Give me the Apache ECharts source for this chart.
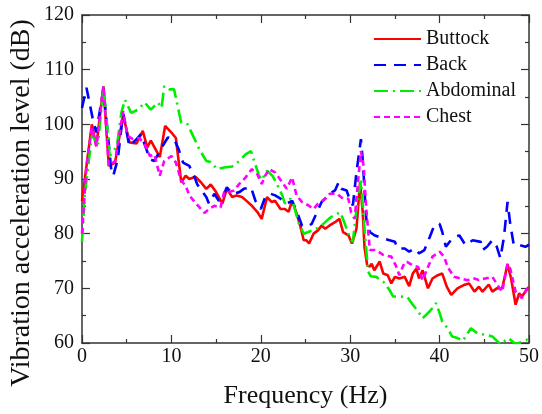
<!DOCTYPE html>
<html>
<head>
<meta charset="utf-8">
<script src="https://cdn.jsdelivr.net/npm/echarts@6/dist/echarts.min.js"></script>
<style>html,body{margin:0;padding:0;background:#fff}#c{width:542px;height:414px}</style>
</head>
<body>
<div id="c"></div>
<script>
const seriesNames = ['Buttock', 'Back', 'Abdominal', 'Chest'];
const xTicks = [0, 10, 20, 30, 40, 50];
const yTicks = [60, 70, 80, 90, 100, 110, 120];

const buttock = [[0,86],[1.1,100],[1.6,96],[2.4,107],[3,92.4],[3.7,93],[4.6,101.8],[5.3,96.7],[6.1,96.5],[6.8,98.8],[7.3,95.8],[7.7,97],[8.2,95.5],[8.7,94],[9.3,99.7],[10,98.5],[10.5,97.5],[11.1,89.4],[11.6,90.6],[12,90],[12.7,90.4],[13.3,89.4],[13.9,88.2],[14.4,89],[15,87.6],[15.7,85.5],[16.2,88.2],[16.8,86.7],[17.3,87],[17.9,86.7],[18.4,86],[19,85.1],[19.6,84],[20.1,82.7],[20.7,86.7],[21.2,85.8],[21.6,86],[22.2,84.5],[22.7,84.5],[23.1,84],[23.5,86],[23.9,84.2],[24.4,81.5],[24.8,78.8],[25.1,78.8],[25.4,78.2],[25.9,80],[26.4,80.6],[26.8,81.5],[27.2,80.9],[27.7,81.5],[28.3,82.1],[28.8,82.7],[29.2,80.3],[29.8,79.7],[30.2,78.2],[30.7,80.9],[31.1,89.4],[31.4,84],[31.6,77.5],[31.9,74.2],[32.2,74],[32.4,74.5],[32.7,73.3],[33.3,74.9],[33.7,72.7],[34.2,72.4],[34.6,70.9],[35,72.1],[35.5,71.8],[36.1,72.1],[36.6,70.4],[37,72.7],[37.4,73.6],[37.7,71.8],[38.1,73.3],[38.7,70],[39.2,71.8],[39.8,72.4],[40.3,72.7],[40.8,70.3],[41.3,68.8],[42,70],[42.7,70.6],[43.3,70.9],[43.9,69.4],[44.4,70.3],[44.8,69.4],[45.5,70.7],[45.9,69.4],[46.4,70],[47,70],[47.6,74.4],[48,71.8],[48.5,67],[48.9,69.1],[49.2,68.5],[49.6,69.4],[50,70.3]];

const back = [[0,103],[0.5,106.7],[1.2,101],[1.6,98.5],[2.4,106.5],[3.3,91.2],[3.5,90.6],[4,93.6],[4.6,102],[5.3,96],[6.1,97.3],[6.6,98.2],[7.6,93.6],[8.1,93.3],[9,96],[9.6,97.6],[10.3,97.3],[10.8,95.5],[11.3,93],[12,92.4],[12.6,90.3],[12.9,89],[13.9,86.7],[14.2,85.5],[14.8,87.3],[15.3,86],[15.9,87.3],[16.2,88.5],[16.8,87.3],[17.6,87.6],[18.1,88.2],[18.9,88.5],[19.4,86],[20,84.5],[20.5,86.7],[21.1,87.3],[21.6,87],[22.2,86.4],[22.9,85.5],[23.5,86],[24,84.2],[24.6,81.5],[25.1,81.2],[25.7,81.8],[26.3,84],[26.8,85.8],[27.4,86.7],[27.7,87.3],[28.3,87.9],[28.7,89.4],[29,88.2],[29.6,87.9],[30,86],[30.3,85.2],[30.7,91.2],[31.2,97.3],[31.4,93.6],[31.6,88],[31.8,82.7],[32.2,80.3],[32.7,79.7],[33.7,79.1],[34.4,78.8],[35,78.5],[35.3,77.3],[36.1,77.3],[36.6,76.7],[37.2,77.3],[37.7,76.4],[38.3,77],[38.9,79.4],[39.4,81.5],[40,81.8],[40.3,80.3],[40.7,77.6],[41.4,79.1],[42.2,79.7],[42.9,77.9],[43.7,78.8],[44.6,78.5],[44.8,77],[45.3,77.6],[45.9,78.8],[46.4,77.6],[46.8,75.5],[47.2,79.4],[47.6,85.8],[47.9,81.8],[48.3,77.9],[49,77.9],[49.6,77.6],[50,78]];

const abdominal = [[0,78.5],[0.3,87],[0.7,92.4],[1.1,97.9],[1.8,96.4],[2.4,107],[3.1,94.2],[3.9,96],[4.4,102.1],[4.8,104.5],[5.5,102.1],[6.3,102.7],[7,104],[7.7,102.7],[8.5,104],[8.9,103],[9.2,107],[9.8,106.4],[10.3,106.4],[10.7,103.3],[11.1,100.3],[11.8,100],[12.6,97.3],[13.1,95.5],[13.9,93.3],[14.4,93.1],[15.1,91.8],[15.9,92.1],[16.8,92.3],[17.6,93.3],[18.3,94.5],[18.9,95.1],[19.2,93.6],[19.8,90.6],[20.1,89.8],[20.7,91.5],[21.3,90.6],[21.8,89.1],[22.4,87],[22.7,85.5],[23.3,86.4],[23.7,85.2],[24.2,82.1],[24.8,80],[25.3,80.3],[26.1,80.8],[26.8,81.5],[27.6,82.7],[28.1,83.3],[28.9,83.9],[29.4,81.8],[30,79.1],[30.3,78.5],[30.7,84.5],[31.2,89.7],[31.6,80.9],[32,73.1],[32.3,72.2],[32.9,72.1],[33.7,71.2],[34.4,69.7],[34.8,68.5],[35.5,68.5],[36.4,68.4],[37,67],[37.6,65.8],[38.1,64.5],[38.9,65.8],[39.2,66.4],[39.6,67.3],[40,65.5],[40.3,63.9],[40.9,62.7],[41.4,61.2],[42,60.9],[42.6,60.4],[43.5,62.7],[44.2,61.8],[45.1,61.5],[45.9,61.2],[46.8,59.8],[47.7,60.9],[48.5,59.8],[49.2,60.2],[49.8,60.6],[50,60.3]];

const chest = [[0,80],[0.5,92.4],[1.1,99.4],[1.6,96],[2.4,107],[3,92.4],[3.7,93.3],[4.6,102.4],[5.1,97.9],[5.7,97.3],[6.4,97.5],[7,96.4],[7.6,94.2],[8.1,94.5],[8.7,90.6],[9.2,93.3],[10,94.2],[10.5,93],[11.1,89.7],[11.6,88.8],[12,87],[12.6,85.8],[13.3,84.5],[13.7,83.8],[14.2,84.5],[14.8,85.1],[15.5,84.8],[15.9,87.6],[16.4,87.6],[17,87.9],[17.6,89.1],[18.3,90.3],[19,91.8],[19.6,90.9],[20.1,89.1],[20.5,90.6],[20.9,91.8],[21.6,91.2],[22.4,89.4],[22.9,88.2],[23.5,90.3],[24,87],[24.6,85.8],[25.3,85.2],[25.9,84.5],[26.4,85.5],[27.2,86.4],[27.7,87.3],[28.5,87.3],[29.2,86.4],[29.8,86.4],[30.1,83.9],[30.5,82.7],[30.9,90],[31.2,95.1],[31.5,92.4],[31.8,84.5],[32.2,77],[32.9,77],[33.7,76.1],[34.6,75.8],[35.1,74.2],[35.5,72.4],[36.1,74.8],[36.4,74.8],[37,74.2],[37.6,73.9],[38.1,71.5],[38.7,73.9],[39.2,75.8],[40,76.7],[40.5,75.8],[40.9,73.9],[41.6,72.1],[42.4,71.8],[43.1,71.5],[43.9,71.8],[44.4,71.5],[45.1,71.8],[45.9,72.1],[46.6,70.3],[47,69.4],[47.6,74.5],[47.9,73.6],[48.5,69.4],[49.2,68.2],[49.8,70],[50,69.5]];

const seriesData = [buttock, back, abdominal, chest];
const seriesColors = ['#ff0000', '#0000ff', '#00ee00', '#ff00ff'];
const seriesDash = ['solid', [12, 8], [14, 5, 2, 5], [6, 4]];

const FONT = '"Liberation Serif", "DejaVu Serif", serif';
const axisColor = '#333';

function baseAxis(extra) {
  return Object.assign({
    type: 'value',
    axisLine: { show: true, onZero: false, lineStyle: { color: axisColor, width: 1.5 } },
    axisTick: { show: true, inside: true, length: 8, lineStyle: { color: axisColor, width: 1.2 } },
    minorTick: { show: true, splitNumber: 2, length: 4, lineStyle: { color: axisColor, width: 1.2 } },
    splitLine: { show: false },
    minorSplitLine: { show: false }
  }, extra);
}

const chart = echarts.init(document.getElementById('c'), null, { renderer: 'canvas' });
chart.setOption({
  animation: false,
  backgroundColor: '#fff',
  grid: { left: 82, right: 10, top: 15, bottom: 69, containLabel: false },
  legend: {
    orient: 'vertical',
    left: 373,
    top: 29,
    padding: 0,
    itemWidth: 47,
    itemHeight: 14,
    itemGap: 6,
    data: seriesNames,
    itemStyle: { opacity: 0 },
    textStyle: { fontFamily: FONT, fontSize: 20, color: '#111', lineHeight: 20 }
  },
  xAxis: [
    baseAxis({
      min: xTicks[0], max: xTicks[xTicks.length - 1], interval: 10, position: 'bottom',
      axisLabel: { fontFamily: FONT, fontSize: 20, color: '#111', margin: 4 },
      name: 'Frequency (Hz)', nameLocation: 'middle', nameGap: 40,
      nameTextStyle: { fontFamily: FONT, fontSize: 26, color: '#111' }
    }),
    baseAxis({
      min: xTicks[0], max: xTicks[xTicks.length - 1], interval: 10, position: 'top',
      axisLabel: { show: false }
    })
  ],
  yAxis: [
    baseAxis({
      min: yTicks[0], max: yTicks[yTicks.length - 1], interval: 10, position: 'left',
      axisLabel: { fontFamily: FONT, fontSize: 20, color: '#111', margin: 8 }
    }),
    baseAxis({
      min: yTicks[0], max: yTicks[yTicks.length - 1], interval: 10, position: 'right',
      axisLabel: { show: false }
    })
  ],
  graphic: [{
    type: 'text',
    x: 22, y: 203, rotation: Math.PI / 2,
    style: {
      text: 'Vibration acceleration level (dB)',
      fontFamily: FONT, fontSize: 28, fill: '#111',
      align: 'center', verticalAlign: 'middle'
    }
  }],
  series: seriesNames.map((name, i) => ({
    name: name,
    type: 'line',
    data: seriesData[i],
    symbol: 'none',
    showSymbol: false,
    clip: true,
    color: seriesColors[i],
    lineStyle: { color: seriesColors[i], width: 2.6, type: seriesDash[i] },
    z: 2 + i
  }))
});
</script>
</body>
</html>
